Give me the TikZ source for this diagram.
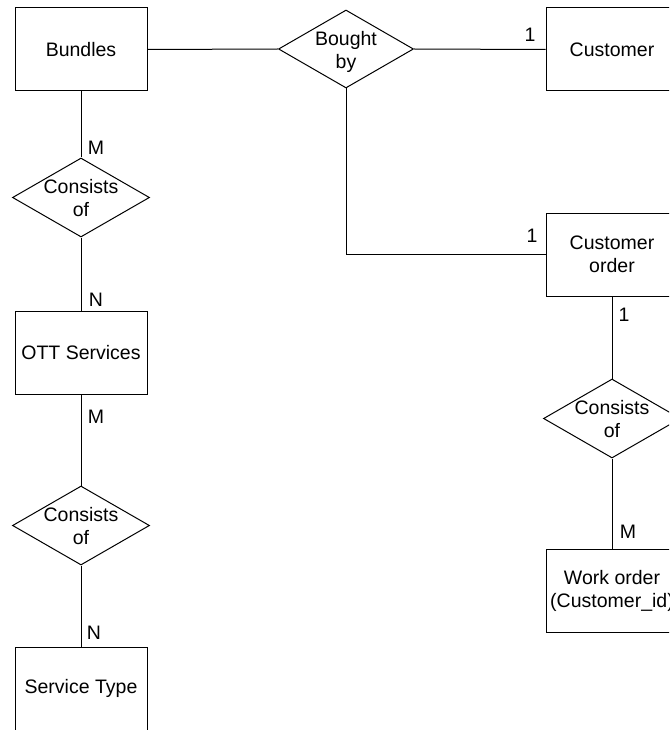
\documentclass[tikz,border=0pt]{standalone}
\usepackage{fontspec}
\setmainfont{Liberation Sans}
\usepackage{tikz}
\usetikzlibrary{shapes.geometric,positioning,calc}
\tikzstyle{entity} = [draw, rectangle, line width=1pt, minimum width=132pt, minimum height=83pt, align=center, inner sep=0pt]
\tikzstyle{link} = [line width=1pt]
% relation text takes no room, so the diamond keeps its own size
\newcommand{\reltxt}[1]{\makebox[0pt]{\raisebox{-17pt}{\smash{\begin{tabular}{@{}c@{}}#1\end{tabular}}}}}

\begin{document}
\begin{tikzpicture}[x=1pt,y=-1pt,font=\fontsize{19.5}{23}\selectfont]
\tikzset{relation/.style={draw,diamond,line width=1pt,inner sep=0pt,minimum width=137pt,minimum height=79pt}}
\clip (0,0) rectangle (669,730);

% entities
\node[entity] (bundles) at (81,49.5) {Bundles};
\node[entity] (ott) at (81,353) {OTT Services};
\node[entity] (stype) at (81,688.5) {Service Type};
\node[entity] (customer) at (612,49.5) {Customer};
\node[entity] (corder) at (612,254.5) {Customer\\order};
\node[entity] (worder) at (612,590.5) {Work order\\(Customer\_id)};

% relations
\node[relation,minimum width=135pt,minimum height=78pt] (bought) at (346,49) {\reltxt{Bought\\by}};
\node[relation] (consA) at (81,197.5) {\reltxt{Consists\\of}};
\node[relation] (consB) at (81,525.5) {\reltxt{Consists\\of}};
\node[relation] (consC) at (612,418.5) {\reltxt{Consists\\of}};

% connectors
\draw[link] (bundles.east) -- (bought.west);
\draw[link] (bought.east) -- (customer.west);
\draw[link] (bought.south) |- (corder.west);
\draw[link] (bundles.south) -- (consA.north);
\draw[link] (consA.south) -- (ott.north);
\draw[link] (ott.south) -- (consB.north);
\draw[link] (consB.south) -- (stype.north);
\draw[link] (corder.south) -- (consC.north);
\draw[link] (consC.south) -- (worder.north);

% cardinalities
\foreach \n/\x/\y/\t in {a/530/35/1, b/532/236/1, c/96/148/M, d/96/300/N,
  e/96/417/M, f/94/633/N, g/624/315/1, h/628/532/M} {
\node[inner sep=0pt] (card\n) at (\x,\y) {\t}; }

\end{tikzpicture}
\end{document}
